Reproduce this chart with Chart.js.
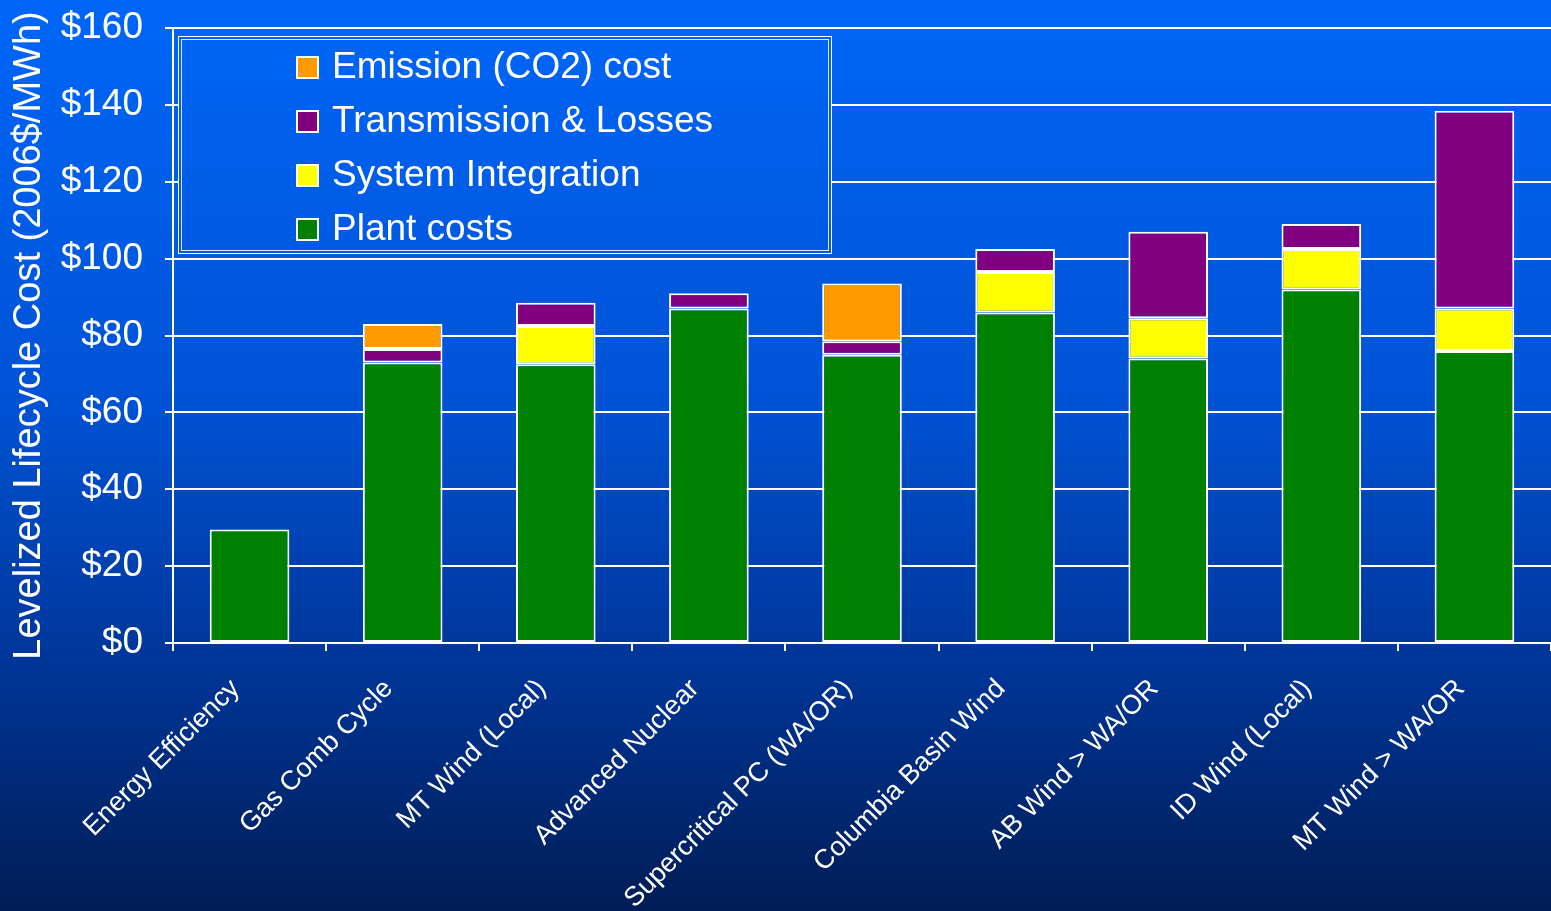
<!DOCTYPE html>
<html>
<head>
<meta charset="utf-8">
<title>Levelized Lifecycle Cost</title>
<script src="https://cdn.jsdelivr.net/npm/chart.js@4"></script>
<style>
  html, body { margin: 0; padding: 0; background: #002060; }
  #wrap { width: 1551px; height: 911px; }
</style>
</head>
<body>
<div id="wrap"><canvas id="costChart" width="1551" height="911"></canvas></div>
<script>
const resources = ['Energy Efficiency', 'Gas Comb Cycle', 'MT Wind (Local)', 'Advanced Nuclear',
  'Supercritical PC (WA/OR)', 'Columbia Basin Wind', 'AB Wind > WA/OR', 'ID Wind (Local)', 'MT Wind > WA/OR'];

// $/MWh, stacked bottom to top
const plantCosts        = [29.5, 73, 72.5, 87, 75, 86, 74, 92, 76];
const systemIntegration = [0, 0, 10, 0, 0, 10.5, 10.5, 10.5, 11];
const transmission      = [0, 3.5, 6, 4, 3.5, 6, 22.5, 6.5, 51.5];
const emissionCost      = [0, 6.5, 0, 0, 15, 0, 0, 0, 0];

const yTicks = [0, 20, 40, 60, 80, 100, 120, 140, 160];

const FONT = 'Liberation Sans, Arial, sans-serif';

function bgGradient(ctx, h) {
  const g = ctx.createLinearGradient(0, 0, 0, h);
  g.addColorStop(0, '#0066f8');
  g.addColorStop(0.45, '#0052d4');
  g.addColorStop(0.72, '#00369a');
  g.addColorStop(1, '#001d55');
  return g;
}

// paints the blue backdrop behind everything
const backdrop = {
  id: 'backdrop',
  beforeDraw(chart) {
    const { ctx, width, height } = chart;
    ctx.save();
    ctx.fillStyle = bgGradient(ctx, height);
    ctx.fillRect(0, 0, width, height);
    ctx.restore();
  }
};

// boxed legend in the upper left of the plot, listed top of stack first
const boxLegend = {
  id: 'boxLegend',
  afterDraw(chart) {
    const { ctx, chartArea } = chart;
    const x = chartArea.left + 5, y = chartArea.top + 8, w = 654, h = 218;
    ctx.save();
    ctx.fillStyle = bgGradient(ctx, chart.height);
    ctx.fillRect(x, y, w, h);
    ctx.strokeStyle = '#ffffff';
    ctx.lineWidth = 1;
    ctx.strokeRect(x + 0.5, y + 0.5, w - 1, h - 1);
    ctx.strokeStyle = 'rgba(255,255,255,0.85)';
    ctx.strokeRect(x + 3.5, y + 3.5, w - 7, h - 7);

    const items = chart.data.datasets.slice().reverse();
    ctx.font = '37px ' + FONT;
    ctx.textBaseline = 'middle';
    items.forEach((ds, i) => {
      const cy = y + 31 + i * 54;
      ctx.fillStyle = ds.backgroundColor;
      ctx.fillRect(x + 119, cy - 10, 21, 21);
      ctx.strokeStyle = '#ffffff';
      ctx.lineWidth = 2;
      ctx.strokeRect(x + 119, cy - 10, 21, 21);
      ctx.fillStyle = '#ffffff';
      ctx.fillText(ds.label, x + 154, cy + 1);
    });
    ctx.restore();
  }
};

function series(label, data, color) {
  return {
    label: label,
    data: data.map(v => v || null), // empty segments draw nothing
    backgroundColor: color,
    borderColor: '#ffffff',
    borderWidth: 2,
    borderSkipped: false,
    barPercentage: 0.52,
    categoryPercentage: 1
  };
}

new Chart(document.getElementById('costChart'), {
  type: 'bar',
  data: {
    labels: resources,
    datasets: [
      series('Plant costs', plantCosts, '#008000'),
      series('System Integration', systemIntegration, '#ffff00'),
      series('Transmission & Losses', transmission, '#800080'),
      series('Emission (CO2) cost', emissionCost, '#ff9900')
    ]
  },
  options: {
    responsive: false,
    devicePixelRatio: 1,
    animation: false,
    layout: { padding: 0 },
    plugins: {
      legend: { display: false },
      tooltip: { enabled: false }
    },
    scales: {
      x: {
        stacked: true,
        // fixed band for the slanted labels; they may hang left past the axis start
        afterFit(scale) {
          scale.height = 268;
          scale.paddingLeft = 0;
          scale.paddingRight = 0;
        },
        border: { color: '#ffffff', width: 2 },
        grid: { drawOnChartArea: false, color: '#ffffff', lineWidth: 2, tickLength: 8 },
        ticks: {
          color: '#ffffff',
          font: { family: FONT, size: 27 },
          minRotation: 45,
          maxRotation: 45,
          labelOffset: -14,
          padding: 22
        }
      },
      y: {
        stacked: true,
        min: 0,
        max: 160,
        afterBuildTicks(axis) { axis.ticks = yTicks.map(v => ({ value: v })); },
        afterFit(scale) {
          scale.width = 173;
          scale.paddingTop = 28;
        },
        border: { color: '#ffffff', width: 2 },
        grid: { color: '#ffffff', lineWidth: 2, tickLength: 8 },
        ticks: {
          color: '#ffffff',
          font: { family: FONT, size: 37 },
          padding: 22,
          callback: v => '$' + v
        },
        title: {
          display: true,
          text: 'Levelized Lifecycle Cost (2006$/MWh)',
          color: '#ffffff',
          font: { family: FONT, size: 38 },
          padding: { top: 7, bottom: 8 }
        }
      }
    }
  },
  plugins: [backdrop, boxLegend]
});
</script>
</body>
</html>
